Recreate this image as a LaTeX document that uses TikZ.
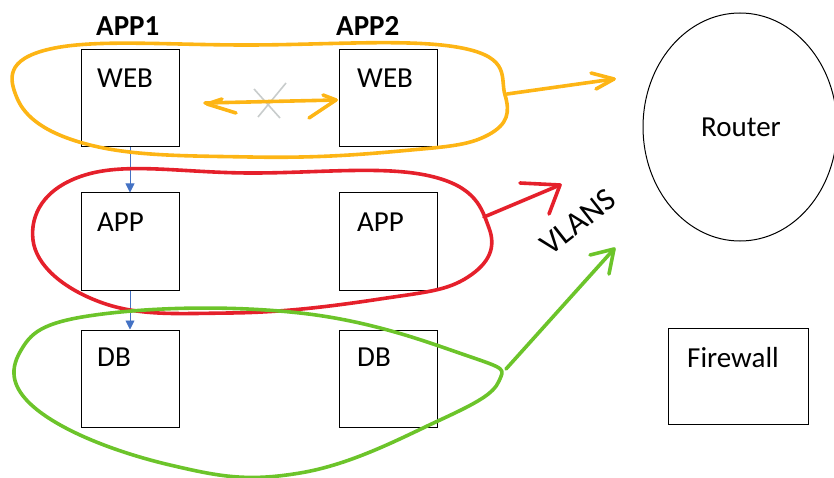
\documentclass[tikz,border=0pt]{standalone}
\usepackage{fontspec}
\setmainfont{Carlito}
\usetikzlibrary{arrows.meta,shapes.geometric}
\definecolor{penorange}{HTML}{FDB515}
\definecolor{penred}{HTML}{E5202B}
\definecolor{pengreen}{HTML}{6CC42A}
\definecolor{linkblue}{HTML}{4472C4}
\definecolor{crossgray}{HTML}{C8CCCC}
\tikzset{
  tier/.style={draw=black, line width=1pt, minimum width=98pt, minimum height=97pt, inner sep=0pt},
  lbl/.style={font=\fontsize{29}{31}\selectfont, anchor=base west, inner sep=0pt},
  head/.style={font=\fontsize{29}{31}\selectfont\bfseries, anchor=base west, inner sep=0pt},
  pen/.style={line width=3.6pt, line cap=round, line join=round},
  link/.style={draw=linkblue, line width=0.9pt, -{Triangle[length=9pt,width=9pt]}},
}
\begin{document}
\begin{tikzpicture}[x=1pt,y=-1pt]
\useasboundingbox (0,0) rectangle (834,478);

% application tiers
\node[tier] (web1) at (130,98) {};
\node[tier] (web2) at (388.5,98) {};
\node[tier] (app1) at (130,241.5) {};
\node[tier] (app2) at (388.5,241.5) {};
\node[tier] (db1)  at (130,378.5) {};
\node[tier] (db2)  at (388.5,378.5) {};
\node[tier, minimum width=140pt, minimum height=96pt] (fw) at (738,376) {};
\node[draw=black, line width=1pt, ellipse, minimum width=194pt, minimum height=228pt, inner sep=0pt] (router) at (740,127) {};

\node[lbl] at (97,88) {WEB};
\node[lbl] at (357,88) {WEB};
\node[lbl] at (97,231) {APP};
\node[lbl] at (357,231) {APP};
\node[lbl] at (97,366) {DB};
\node[lbl] at (357,366) {DB};
\node[lbl] (fwlbl) at (687,367) {Firewall};
\node[lbl] (rlbl) at (701,137) {Router};

\node[head] (h1) at (96,36) {APP1};
\node[head] (h2) at (336,36) {APP2};

% calls between tiers
\draw[link] (web1.south) -- (app1.north);
\draw[link] (app1.south) -- (db1.north);

% blocked web-to-web traffic
\coordinate (wa) at (205,103);
\coordinate (wb) at (336,100);
\draw[crossgray, line width=1.6pt] (254,89) -- (280,118) (258,117) -- (286,83);
\draw[pen, penorange] (wa) -- (wb);
\draw[pen, penorange] (236,113) -- (207,104) -- (222,99);
\draw[pen, penorange] (309,118) -- (336,100) -- (323,95);

% VLAN groupings
\draw[pen, penorange] plot[smooth cycle, tension=0.7] coordinates {
  (50,49) (250,45) (462,48) (505,95) (488,135) (400,151)
  (250,157) (90,145) (17,98)};
\draw[pen, penred] plot[smooth cycle, tension=0.7] coordinates {
  (85,175) (250,173) (430,176) (489,228) (468,277) (380,299)
  (230,313) (100,302) (33,240)};
\draw[pen, pengreen] plot[smooth cycle, tension=0.7] coordinates {
  (95,315) (300,313) (468,356) (499,381) (440,420) (300,473)
  (170,465) (40,412) (20,352)};

% group arrows towards the router
\coordinate (oa) at (507,94);
\coordinate (ob) at (614,79);
\draw[pen, penorange] (oa) -- (ob);
\draw[pen, penorange] (591,73) -- (ob) -- (596,89);
\coordinate (ra) at (484,217);
\coordinate (rb) at (560,185);
\draw[pen, penred] (ra) -- (rb);
\draw[pen, penred] (520,183) -- (rb) -- (549,214);
\coordinate (ga) at (506,369);
\coordinate (gb) at (614,249);
\draw[pen, pengreen] (ga) -- (gb);
\draw[pen, pengreen] (590,255) -- (gb) -- (609,274);

\node[font=\fontsize{32}{34}\selectfont, rotate=38, inner sep=0pt] (vl) at (578,222) {VLANS};
\end{tikzpicture}
\end{document}
